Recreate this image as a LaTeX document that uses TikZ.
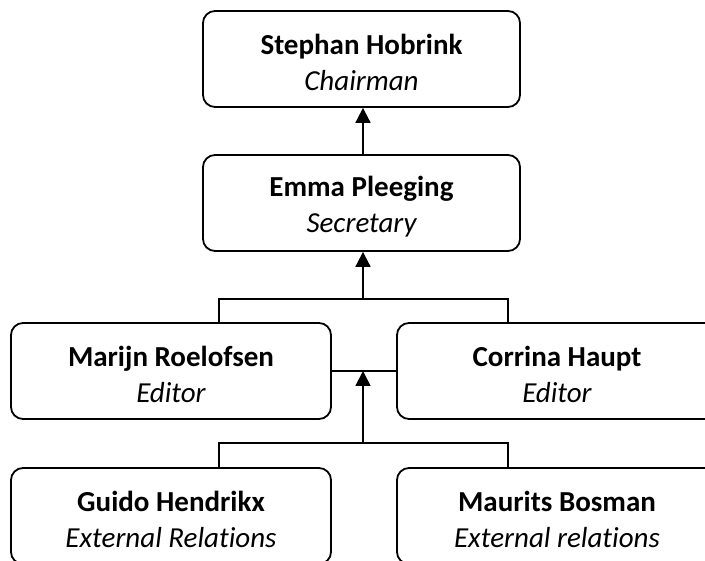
\documentclass[tikz,border=0pt]{standalone}
\usepackage{fontspec}
\setmainfont{Carlito}[Ligatures=NoCommon]
\usetikzlibrary{arrows.meta}
\tikzset{
  box/.style={draw, line width=1.8pt, rounded corners=12pt, minimum width=320pt, minimum height=96pt, align=center, inner sep=0pt, font=\fontsize{29}{36}\selectfont},
  link/.style={line width=1.8pt},
  arr/.style={line width=1.8pt, -{Triangle[width=15pt,length=15pt]}}
}
\newcommand{\person}[2]{\rule{0pt}{28pt}{\bfseries #1}\\{\itshape #2}}
\begin{document}
\begin{tikzpicture}[x=1pt,y=-1pt]
\useasboundingbox (0,0) rectangle (705,561);
\node[box, minimum width=317pt] (top) at (361.5,59) {\person{Stephan Hobrink}{Chairman}};
\node[box, minimum width=317pt] (emma) at (361.5,203) {\person{Emma Pleeging}{Secretary}};
\node[box] (marijn) at (171,371) {\person{Marijn Roelofsen}{Editor}};
\node[box] (corrina) at (557,371) {\person{Corrina Haupt}{Editor}};
\node[box] (guido) at (171,516) {\person{Guido Hendrikx}{External Relations}};
\node[box] (maurits) at (557,516) {\person{Maurits Bosman}{External relations}};
\coordinate (mj) at (219,323);
\coordinate (cj) at (508,323);
\coordinate (b1) at (363,299);
\draw[arr] (emma.north -| b1) -- (top.south -| b1);
\draw[link] (mj) |- (b1) -| (cj);
\draw[arr] (b1) -- (emma.south -| b1);
\coordinate (ml) at (marijn.east);
\coordinate (cl) at (corrina.west);
\coordinate (mid) at (363,371);
\draw[link] (ml) -- (cl);
\coordinate (gj) at (219,468);
\coordinate (mbj) at (508,468);
\coordinate (b2) at (363,443);
\draw[link] (gj) |- (b2) -| (mbj);
\draw[arr] (b2) -- (mid);
\end{tikzpicture}
\end{document}
